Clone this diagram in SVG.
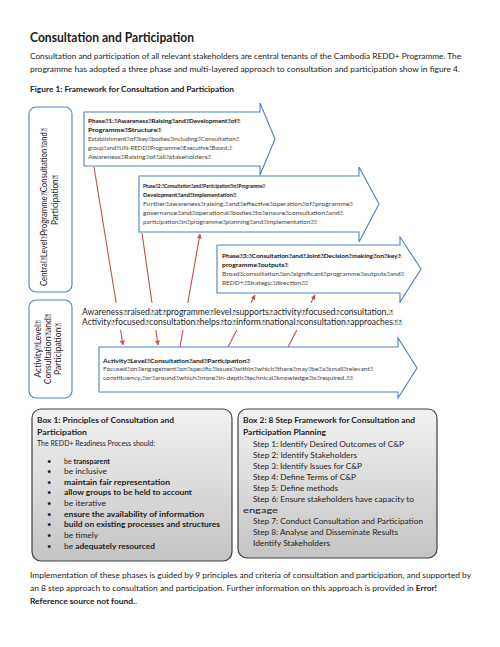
<svg xmlns="http://www.w3.org/2000/svg" width="500" height="647" viewBox="0 0 500 647">
<style>
text{font-family:Lato,"Liberation Sans",sans-serif;fill:#1a1a1a}
.b{font-weight:bold}
.p{font-size:8px}
.ph{font-size:6px}
.phb{font-size:6px;font-weight:bold;fill:#111}
.phn{font-size:6px;fill:#444}
.mid{font-size:8.5px;fill:#222}
.vl{font-size:8.5px;fill:#222}
.bx{font-size:7.5px;fill:#222}
.arr{fill:#fff;stroke:#4f81bd;stroke-width:1.1}
.lbox{fill:#fff;stroke:#4f81bd;stroke-width:1.1}
.gbox{fill:url(#g);stroke:#404040;stroke-width:1.2}
.con{stroke:#c0504d;stroke-width:1.1;fill:none}
</style>
<defs>
<linearGradient id="g" x1="0" y1="0" x2="0" y2="1">
<stop offset="0" stop-color="#f2f2f2"/>
<stop offset="1" stop-color="#c4c4c4"/>
</linearGradient>
<marker id="ah" viewBox="0 0 10 10" refX="9" refY="5" markerWidth="5" markerHeight="5" orient="auto" markerUnits="userSpaceOnUse">
<path d="M0,0 L10,5 L0,10 Z" fill="#c0504d"/>
</marker>
</defs>

<g id="header">
<text x="30" y="42" class="b" font-size="13" textLength="164" lengthAdjust="spacingAndGlyphs">Consultation and Participation</text>
<text x="30" y="59" class="p" textLength="431" lengthAdjust="spacingAndGlyphs">Consultation and participation of all relevant stakeholders are central tenants of the Cambodia REDD+ Programme. The</text>
<text x="30" y="72" class="p" textLength="430" lengthAdjust="spacingAndGlyphs">programme has adopted a three phase and multi-layered approach to consultation and participation show in figure 4.</text>
<text x="30" y="92" class="b" font-size="7.5" textLength="204" lengthAdjust="spacingAndGlyphs">Figure 1: Framework for Consultation and Participation</text>
</g>

<g id="central-level">
<rect class="lbox" x="29" y="107" width="43" height="185" rx="7"/>
<text class="vl" transform="translate(47,207) rotate(-90)" text-anchor="middle" textLength="158" lengthAdjust="spacingAndGlyphs">Central&#xF020;Level&#xF020;Programme&#xF020;Consultation&#xF020;and&#xF020;</text>
<text class="vl" transform="translate(58,200) rotate(-90)" text-anchor="middle" textLength="50" lengthAdjust="spacingAndGlyphs">Participation&#xF020;</text>
</g>

<g id="activity-level">
<rect class="lbox" x="29" y="300" width="43" height="98" rx="7"/>
<text class="vl" transform="translate(41,349) rotate(-90)" text-anchor="middle">Activity&#xF020;Level&#xF020;</text>
<text class="vl" transform="translate(51,349) rotate(-90)" text-anchor="middle">Consultation&#xF020;and&#xF020;</text>
<text class="vl" transform="translate(61,349) rotate(-90)" text-anchor="middle">Participation&#xF020;</text>
</g>

<g id="phase1">
<path class="arr" d="M84,112 H260 V103 L275,139 L260,175 V166 H84 Z"/>
<text x="88" y="123" class="phb" textLength="152" lengthAdjust="spacingAndGlyphs">Phase&#xF020;1:&#xF020;Awareness&#xF020;Raising&#xF020;and&#xF020;Development&#xF020;of&#xF020;</text>
<text x="88" y="132" class="phb" textLength="73" lengthAdjust="spacingAndGlyphs">Programme&#xF020;Structure&#xF020;</text>
<text x="88" y="141" class="phn" textLength="151" lengthAdjust="spacingAndGlyphs">Establishment&#xF020;of&#xF020;key&#xF020;bodies&#xF020;including&#xF020;Consultation&#xF020;</text>
<text x="88" y="150" class="phn" textLength="144" lengthAdjust="spacingAndGlyphs">group&#xF020;and&#xF020;UN-REDD&#xF020;Programme&#xF020;Executive&#xF020;Board,&#xF020;</text>
<text x="88" y="159" class="phn" textLength="123" lengthAdjust="spacingAndGlyphs">Awareness&#xF020;Raising&#xF020;of&#xF020;all&#xF020;stakeholders&#xF020;</text>
</g>

<g id="phase2">
<path class="arr" d="M139,176 H359 V167 L379,204 L359,242 V232 H139 Z"/>
<text x="143" y="188" class="phb" textLength="122" lengthAdjust="spacingAndGlyphs">Phase&#xF020;2:&#xF020;Consultation&#xF020;and&#xF020;Participation&#xF020;in&#xF020;Programme&#xF020;</text>
<text x="143" y="197" class="phb" textLength="93" lengthAdjust="spacingAndGlyphs">Development&#xF020;and&#xF020;Implementation&#xF020;</text>
<text x="143" y="206" class="phn" textLength="210" lengthAdjust="spacingAndGlyphs">Further&#xF020;awareness&#xF020;raising,&#xF020;and&#xF020;effective&#xF020;operation&#xF020;of&#xF020;programme&#xF020;</text>
<text x="143" y="215" class="phn" textLength="200" lengthAdjust="spacingAndGlyphs">governance&#xF020;and&#xF020;operational&#xF020;bodies&#xF020;to&#xF020;ensure&#xF020;consultation&#xF020;and&#xF020;</text>
<text x="143" y="224" class="phn" textLength="174" lengthAdjust="spacingAndGlyphs">participation&#xF020;in&#xF020;programme&#xF020;planning&#xF020;and&#xF020;implementation&#xF020;&#xF020;</text>
</g>

<g id="phase3">
<path class="arr" d="M217,245 H400 V237 L421,269 L400,302 V293 H217 Z"/>
<text x="222" y="258" class="phb" textLength="179" lengthAdjust="spacingAndGlyphs">Phase&#xF020;3:&#xF020;Consultation&#xF020;and&#xF020;Joint&#xF020;Decision&#xF020;making&#xF020;on&#xF020;key&#xF020;</text>
<text x="222" y="267" class="phb" textLength="66" lengthAdjust="spacingAndGlyphs">programme&#xF020;outputs&#xF020;</text>
<text x="222" y="276" class="phn" textLength="182" lengthAdjust="spacingAndGlyphs">Broad&#xF020;consultation&#xF020;on&#xF020;significant&#xF020;programme&#xF020;outputs&#xF020;and&#xF020;</text>
<text x="222" y="285" class="phn" textLength="86" lengthAdjust="spacingAndGlyphs">REDD+&#xF020;Strategic&#xF020;direction&#xF020;&#xF020;</text>
</g>

<g id="connectors">
<line class="con" x1="94" y1="167" x2="123" y2="345" marker-end="url(#ah)"/>
<line class="con" x1="142" y1="233" x2="158" y2="345" marker-end="url(#ah)"/>
<line class="con" x1="180" y1="347" x2="200" y2="234" marker-end="url(#ah)"/>
<line class="con" x1="228" y1="347" x2="255" y2="295" marker-end="url(#ah)"/>
<line class="con" x1="288" y1="347" x2="315" y2="295" marker-end="url(#ah)"/>
</g>

<g id="middle-text">
<rect x="80" y="303" width="330" height="27" fill="#fff"/>
<text x="82" y="315" class="mid" textLength="311" lengthAdjust="spacingAndGlyphs">Awareness&#xF020;raised&#xF020;at&#xF020;programme&#xF020;level&#xF020;supports&#xF020;activity&#xF020;focused&#xF020;consultation.&#xF020;</text>
<text x="82" y="325" class="mid" textLength="320" lengthAdjust="spacingAndGlyphs">Activity&#xF020;focused&#xF020;consultation&#xF020;helps&#xF020;to&#xF020;inform&#xF020;national&#xF020;consultation&#xF020;approaches&#xF020;&#xF020;</text>
</g>

<g id="activity">
<path class="arr" d="M99,347 H398 V338 L417,368 L398,398 V392 H99 Z"/>
<text x="103" y="363" class="phb" textLength="147" lengthAdjust="spacingAndGlyphs">Activity&#xF020;Level&#xF020;Consultation&#xF020;and&#xF020;Participation&#xF020;</text>
<text x="103" y="371" class="phn" textLength="270" lengthAdjust="spacingAndGlyphs">Focused&#xF020;on&#xF020;engagement&#xF020;on&#xF020;specific&#xF020;issues&#xF020;within&#xF020;which&#xF020;there&#xF020;may&#xF020;be&#xF020;a&#xF020;small&#xF020;relevant&#xF020;</text>
<text x="103" y="380" class="phn" textLength="250" lengthAdjust="spacingAndGlyphs">constituency,&#xF020;or&#xF020;around&#xF020;which&#xF020;more&#xF020;in-depth&#xF020;technical&#xF020;knowledge&#xF020;is&#xF020;required.&#xF020;&#xF020;</text>
</g>

<g id="box1">
<rect class="gbox" x="32" y="409" width="200" height="152" rx="9"/>
<text x="37" y="423" class="bx b" textLength="137" lengthAdjust="spacingAndGlyphs">Box 1: Principles of Consultation and</text>
<text x="37" y="435" class="bx b" textLength="50" lengthAdjust="spacingAndGlyphs">Participation</text>
<text x="37" y="446" class="bx" textLength="118" lengthAdjust="spacingAndGlyphs">The REDD+ Readiness Process should:</text>
<g class="bx">
<text x="47" y="464">•</text><text x="64" y="464" class="bx" textLength="46" lengthAdjust="spacingAndGlyphs">be <tspan class="b">transparent</tspan></text>
<text x="47" y="474">•</text><text x="64" y="474" class="bx" textLength="43" lengthAdjust="spacingAndGlyphs">be inclusive</text>
<text x="47" y="485">•</text><text x="64" y="485" class="bx b" textLength="106" lengthAdjust="spacingAndGlyphs">maintain fair representation</text>
<text x="47" y="495">•</text><text x="64" y="495" class="bx b" textLength="128" lengthAdjust="spacingAndGlyphs">allow groups to be held to account</text>
<text x="47" y="506">•</text><text x="64" y="506" class="bx" textLength="42" lengthAdjust="spacingAndGlyphs">be iterative</text>
<text x="47" y="517">•</text><text x="64" y="517" class="bx b" textLength="140" lengthAdjust="spacingAndGlyphs">ensure the availability of information</text>
<text x="47" y="527">•</text><text x="64" y="527" class="bx b" textLength="156" lengthAdjust="spacingAndGlyphs">build on existing processes and structures</text>
<text x="47" y="538">•</text><text x="64" y="538" class="bx" textLength="34" lengthAdjust="spacingAndGlyphs">be timely</text>
<text x="47" y="549">•</text><text x="64" y="549" class="bx" textLength="91" lengthAdjust="spacingAndGlyphs">be <tspan class="b">adequately resourced</tspan></text>
</g>
</g>

<g id="box2">
<rect class="gbox" x="238" y="409" width="199" height="149" rx="9"/>
<text x="243" y="423" class="bx b" textLength="172" lengthAdjust="spacingAndGlyphs">Box 2: 8 Step Framework for Consultation and</text>
<text x="243" y="435" class="bx b" textLength="83" lengthAdjust="spacingAndGlyphs">Participation Planning</text>
<text x="253" y="447" class="bx" textLength="151" lengthAdjust="spacingAndGlyphs">Step 1: Identify Desired Outcomes of C&amp;P</text>
<text x="253" y="458" class="bx" textLength="104" lengthAdjust="spacingAndGlyphs">Step 2: Identify Stakeholders</text>
<text x="253" y="469" class="bx" textLength="109" lengthAdjust="spacingAndGlyphs">Step 3: Identify Issues for C&amp;P</text>
<text x="253" y="480" class="bx" textLength="103" lengthAdjust="spacingAndGlyphs">Step 4: Define Terms of C&amp;P</text>
<text x="253" y="491" class="bx" textLength="85" lengthAdjust="spacingAndGlyphs">Step 5: Define methods</text>
<text x="253" y="502" class="bx" textLength="161" lengthAdjust="spacingAndGlyphs">Step 6: Ensure stakeholders have capacity to</text>
<text x="243" y="513" class="bx" textLength="35" lengthAdjust="spacingAndGlyphs">engage</text>
<text x="253" y="524" class="bx" textLength="170" lengthAdjust="spacingAndGlyphs">Step 7: Conduct Consultation and Participation</text>
<text x="253" y="535" class="bx" textLength="145" lengthAdjust="spacingAndGlyphs">Step 8: Analyse and Disseminate Results</text>
<text x="253" y="546" class="bx" textLength="77" lengthAdjust="spacingAndGlyphs">Identify Stakeholders</text>
</g>

<g id="footer">
<text x="30" y="578" class="p" textLength="441" lengthAdjust="spacingAndGlyphs">Implementation of these phases is guided by 9 principles and criteria of consultation and participation, and supported by</text>
<text x="30" y="591" class="p" textLength="407" lengthAdjust="spacingAndGlyphs">an 8 step approach to consultation and participation.  Further information on this approach is provided in <tspan class="b">Error!</tspan></text>
<text x="30" y="604" class="p" textLength="107" lengthAdjust="spacingAndGlyphs"><tspan class="b">Reference source not found.</tspan>.</text>
</g>
</svg>
